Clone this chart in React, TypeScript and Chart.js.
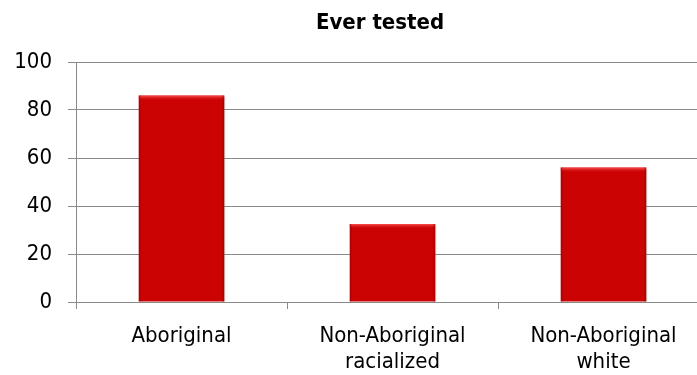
import React, { useEffect, useRef } from "react";
import { Chart, registerables } from "chart.js";

Chart.register(...registerables);

const chartTitle = "Ever tested";
const categories: string[][] = [
  ["Aboriginal"],
  ["Non-Aboriginal", "racialized"],
  ["Non-Aboriginal", "white"],
];
const everTested: number[] = [86, 32.5, 56];
const yTicks: number[] = [0, 20, 40, 60, 80, 100];

const FONT = '"DejaVu Sans Condensed", "DejaVu Sans", sans-serif';
const GRID = "#8a8a8a";
const BAR = "#cc0303";

// Draws the heading text above the plot area.
const headingPlugin = {
  id: "heading",
  afterDraw(chart: Chart) {
    const ctx = chart.ctx;
    ctx.save();
    ctx.font = `bold 22px ${FONT}`;
    ctx.fillStyle = "#000";
    ctx.textAlign = "center";
    ctx.textBaseline = "middle";
    ctx.fillText(chartTitle, 380, 23);
    ctx.restore();
  },
};

// Adds a soft bevel to each bar: a light top edge and darker sides.
const bevelPlugin = {
  id: "bevel",
  afterDatasetsDraw(chart: Chart) {
    const ctx = chart.ctx;
    const meta = chart.getDatasetMeta(0);
    meta.data.forEach((el: any) => {
      const { x, y, base, width } = el.getProps(["x", "y", "base", "width"], true);
      const left = x - width / 2;
      const right = x + width / 2;
      ctx.save();
      const top = ctx.createLinearGradient(0, y, 0, y + 5);
      top.addColorStop(0, "rgba(255,90,90,0.9)");
      top.addColorStop(1, "rgba(204,3,3,0)");
      ctx.fillStyle = top;
      ctx.fillRect(left, y, width, 5);
      const lg = ctx.createLinearGradient(left, 0, left + 3, 0);
      lg.addColorStop(0, "rgba(140,0,0,0.55)");
      lg.addColorStop(1, "rgba(140,0,0,0)");
      ctx.fillStyle = lg;
      ctx.fillRect(left, y, 3, base - y);
      const rg = ctx.createLinearGradient(right - 3, 0, right, 0);
      rg.addColorStop(0, "rgba(140,0,0,0)");
      rg.addColorStop(1, "rgba(140,0,0,0.55)");
      ctx.fillStyle = rg;
      ctx.fillRect(right - 3, y, 3, base - y);
      ctx.fillStyle = "rgba(120,120,120,0.35)";
      ctx.fillRect(right, y + 2, 1, base - y - 2);
      ctx.restore();
    });
  },
};

export default function App() {
  const canvasRef = useRef<HTMLCanvasElement | null>(null);

  useEffect(() => {
    if (!canvasRef.current) return;
    const chart = new Chart(canvasRef.current, {
      type: "bar",
      data: {
        labels: categories,
        datasets: [
          {
            data: everTested,
            backgroundColor: BAR,
            borderWidth: 0,
            categoryPercentage: 1,
            barPercentage: 0.405,
          },
        ],
      },
      options: {
        responsive: false,
        animation: false,
        layout: { padding: { left: 13, right: 11, top: 62, bottom: 0 } },
        plugins: {
          legend: { display: false },
          title: { display: false },
          tooltip: { enabled: false },
        },
        scales: {
          x: {
            afterFit: (scale: any) => {
              scale.height = 73;
              scale.paddingLeft = 0;
              scale.paddingRight = 0;
            },
            grid: {
              display: true,
              offset: true,
              drawOnChartArea: false,
              drawTicks: true,
              tickLength: 7,
              color: GRID,
            },
            border: { display: true, color: GRID },
            ticks: {
              color: "#000",
              padding: 14,
              maxRotation: 0,
              autoSkip: false,
              font: { family: FONT, size: 22, lineHeight: "26px" },
            },
          },
          y: {
            min: 0,
            max: 100,
            afterBuildTicks: (scale: any) => {
              scale.ticks = yTicks.map((v) => ({ value: v }));
            },
            afterFit: (scale: any) => {
              scale.width = 63;
            },
            grid: { color: GRID, tickLength: 8 },
            border: { display: true, color: GRID },
            ticks: {
              color: "#000",
              padding: 16,
              font: { family: FONT, size: 22 },
            },
          },
        },
      },
      plugins: [headingPlugin, bevelPlugin],
    });
    return () => chart.destroy();
  }, []);

  return (
    <div
      style={{
        position: "fixed",
        left: 0,
        top: 0,
        width: 697,
        height: 375,
        overflow: "hidden",
        background: "#fff",
      }}
    >
      <canvas ref={canvasRef} width={720} height={375} style={{ display: "block" }} />
    </div>
  );
}
